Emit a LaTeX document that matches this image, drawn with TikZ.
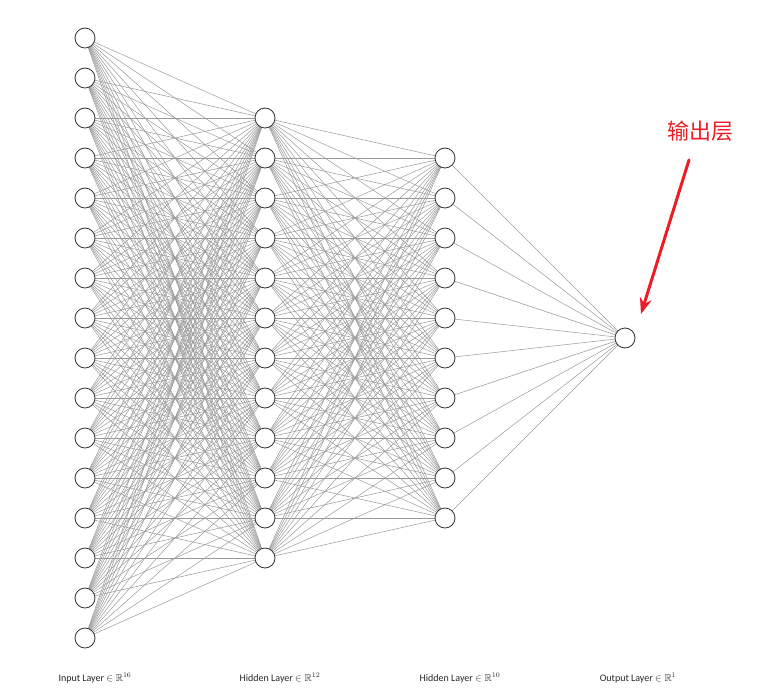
\documentclass[tikz,border=0pt]{standalone}
\usepackage{amssymb}
\usepackage{fontspec}
\setmainfont{Carlito}
\newfontfamily\cjk{Noto Sans CJK SC}
\usetikzlibrary{arrows.meta}
\definecolor{myred}{RGB}{235,30,40}
\begin{document}
\begin{tikzpicture}[x=1pt,y=-1pt,
  neuron/.style={circle,draw=black!80,fill=white,line width=0.8pt,minimum size=20pt,inner sep=0pt},
  edge/.style={draw=black!40,line width=0.5pt},
  lbl/.style={font=\fontsize{10}{12}\selectfont,text=black!85}]
\useasboundingbox (0,0) rectangle (774,693);
\foreach \i in {1,...,16} \coordinate (a\i) at (85,{38+40*(\i-1)});
\foreach \i in {1,...,12} \coordinate (b\i) at (265,{118+40*(\i-1)});
\foreach \i in {1,...,10} \coordinate (c\i) at (445,{158+40*(\i-1)});
\coordinate (d1) at (625,338);
\foreach \i in {1,...,16} \foreach \j in {1,...,12} \draw[edge] (a\i) -- (b\j);
\foreach \i in {1,...,12} \foreach \j in {1,...,10} \draw[edge] (b\i) -- (c\j);
\foreach \i in {1,...,10} \draw[edge] (c\i) -- (d1);
\foreach \i in {1,...,16} \node[neuron] (na\i) at (a\i) {};
\foreach \i in {1,...,12} \node[neuron] (nb\i) at (b\i) {};
\foreach \i in {1,...,10} \node[neuron] (nc\i) at (c\i) {};
\node[neuron] (nd1) at (d1) {};
\node[lbl] (l1) at (95,678) {Input Layer $\in \mathbb{R}^{16}$};
\node[lbl] (l2) at (280,678) {Hidden Layer $\in \mathbb{R}^{12}$};
\node[lbl] (l3) at (460,678) {Hidden Layer $\in \mathbb{R}^{10}$};
\node[lbl] (l4) at (638,678) {Output Layer $\in \mathbb{R}^{1}$};
\node[text=myred,font=\cjk\fontsize{22}{24}\selectfont] (t) at (700,131) {输出层};
\coordinate (s) at (689,160);
\coordinate (e) at (641,314);
\draw[myred,line width=3pt,line cap=round,-{Stealth[length=16pt,width=12pt]}] (s) -- (e);
\end{tikzpicture}
\end{document}
